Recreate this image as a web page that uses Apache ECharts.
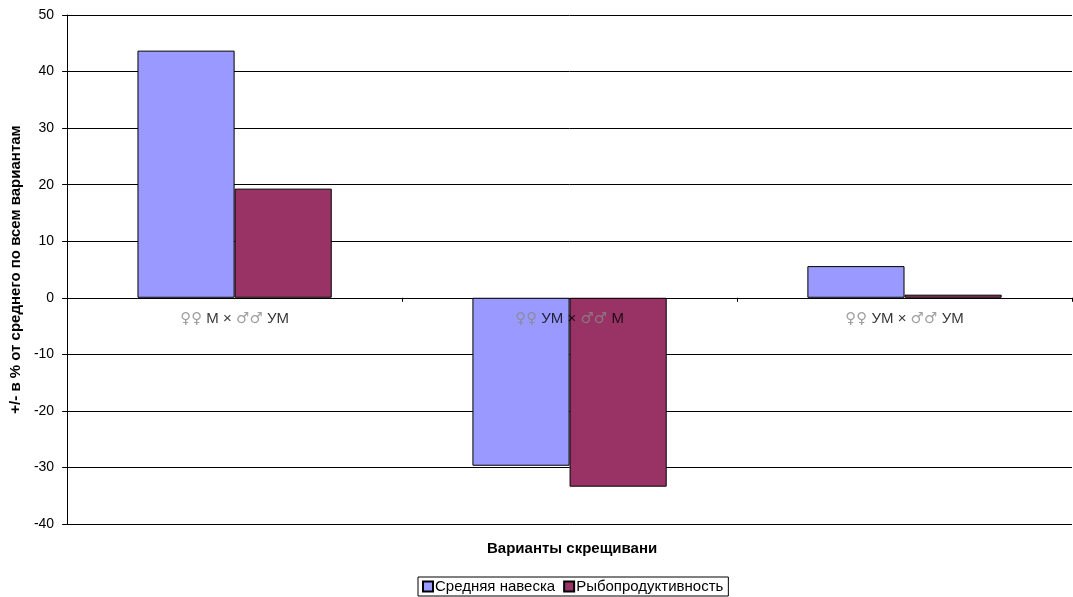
<!DOCTYPE html>
<html>
<head>
<meta charset="utf-8">
<script src="https://cdn.jsdelivr.net/npm/echarts@6/dist/echarts.min.js"></script>
<style>html,body{margin:0;padding:0;background:#fff}#c{width:1073px;height:597px}</style>
</head>
<body>
<div id="c"></div>
<script>
var categories = ['♀♀ М × ♂♂ УМ', '♀♀ УМ × ♂♂ М', '♀♀ УМ × ♂♂ УМ'];
var seriesNames = ['Средняя навеска', 'Рыбопродуктивность'];
var avgWeight = [43.7, -29.7, 5.6];
var fishProd = [19.3, -33.4, 0.55];
var labelAnchor = [0, 0, 0];
var yTicks = { min: -40, max: 50, interval: 10 };
var xAxisTitle = 'Варианты скрещивани';
var yAxisTitle = '+/- в % от среднего по всем вариантам';

var chart = echarts.init(document.getElementById('c'));
var font = 'Liberation Sans, Arial, sans-serif';

function catLabel(p) {
  return p.name.replace(/(♀♀|♂♂)/g, '{s|$1}').replace(/([^{}|\s♀♂]+)/g, function (m) {
    if (m === 's') return m;
    return m;
  });
}

chart.setOption({
  animation: false,
  textStyle: { fontFamily: font, color: '#000' },
  grid: { left: 66, right: 1, top: 15, bottom: 73, containLabel: false },
  xAxis: {
    type: 'category',
    data: categories,
    axisLine: { onZero: true, lineStyle: { color: '#000', width: 1 } },
    axisTick: { show: true, length: 4, lineStyle: { color: '#000' } },
    axisLabel: { show: false }
  },
  yAxis: {
    type: 'value',
    min: yTicks.min, max: yTicks.max, interval: yTicks.interval,
    name: yAxisTitle,
    nameLocation: 'middle',
    nameGap: 42,
    nameTextStyle: { fontSize: 15, fontWeight: 'bold', color: '#000', fontFamily: font },
    axisLine: { show: true, lineStyle: { color: '#000' } },
    axisTick: { show: true, length: 5, lineStyle: { color: '#000' } },
    axisLabel: { fontSize: 14, color: '#000', margin: 13, fontFamily: font },
    splitLine: { show: true, lineStyle: { color: '#000', width: 1 } }
  },
  legend: {
    data: seriesNames,
    left: 418,
    top: 577,
    itemWidth: 10,
    itemHeight: 10,
    itemGap: 8,
    icon: 'rect',
    padding: [2, 5, 2, 4],
    borderColor: '#000',
    borderWidth: 1,
    borderRadius: 0,
    textStyle: { fontSize: 15, color: '#000', fontFamily: font, padding: [0, 0, 0, -3] }
  },
  graphic: [{
    type: 'text',
    left: 487,
    top: 541,
    style: { text: xAxisTitle, font: 'bold 15px ' + font, fill: '#000' }
  }],
  series: [
    {
      name: seriesNames[0], type: 'bar', data: avgWeight,
      barGap: '0%', barCategoryGap: '42%',
      itemStyle: { color: '#9999FF', borderColor: '#000', borderWidth: 1 }
    },
    {
      name: seriesNames[1], type: 'bar', data: fishProd,
      barGap: '0%', barCategoryGap: '42%',
      itemStyle: { color: '#993366', borderColor: '#000', borderWidth: 1 }
    },
    {
      name: 'labels', type: 'scatter', data: labelAnchor,
      symbolSize: 0, silent: true, z: 10,
      label: {
        show: true, position: 'bottom', distance: 14,
        formatter: catLabel,
        fontSize: 15, color: '#000', fontFamily: font,
        rich: {
          s: { fontSize: 15, color: '#888', fontFamily: 'DejaVu Sans' }
        }
      }
    }
  ]
});
</script>
</body>
</html>
